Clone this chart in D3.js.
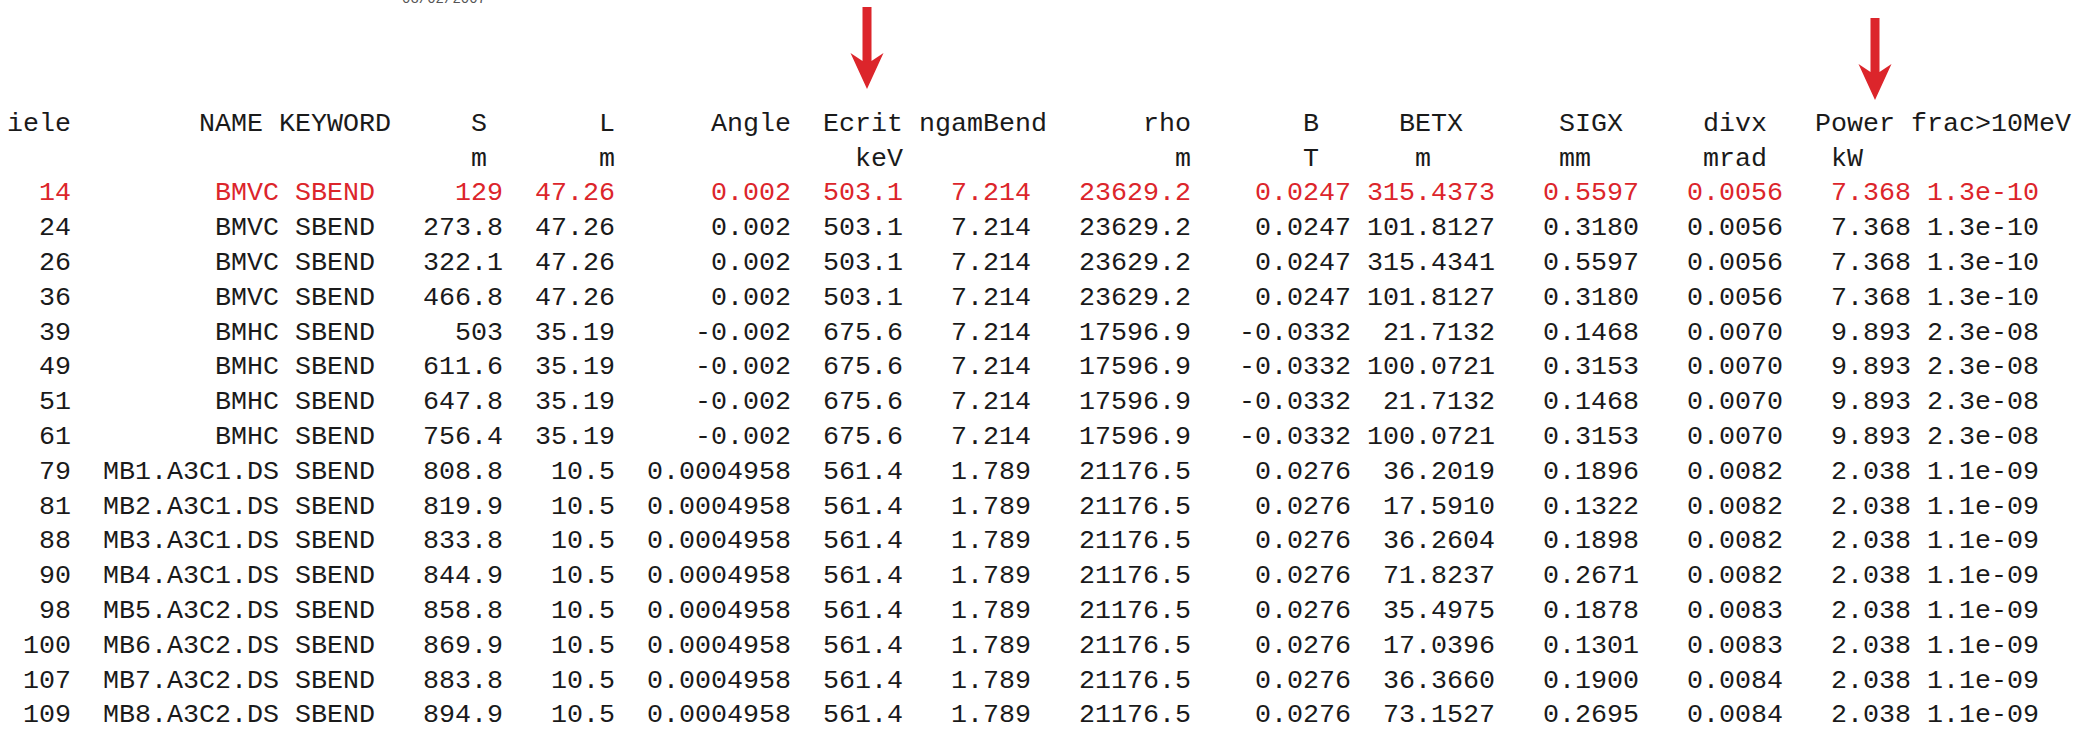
<!DOCTYPE html>
<html>
<head>
<meta charset="utf-8">
<script src="https://cdn.jsdelivr.net/npm/d3@7"></script>
<style>
  html, body { margin: 0; padding: 0; background: #fff; overflow: hidden; }
  text { font-family: "Liberation Mono", "Courier New", monospace; }
</style>
</head>
<body>
<div id="table"></div>
<script>
// table data, one array per column
const columns = ["iele", "NAME", "KEYWORD", "S", "L", "Angle", "Ecrit", "ngamBend", "rho", "B", "BETX", "SIGX", "divx", "Power", "frac>10MeV"];
const units   = ["", "", "", "m", "m", "", "keV", "", "m", "T", "m", "mm", "mrad", "kW", ""];

const iele     = ["14", "24", "26", "36", "39", "49", "51", "61", "79", "81", "88", "90", "98", "100", "107", "109"];
const names    = ["BMVC", "BMVC", "BMVC", "BMVC", "BMHC", "BMHC", "BMHC", "BMHC",
                  "MB1.A3C1.DS", "MB2.A3C1.DS", "MB3.A3C1.DS", "MB4.A3C1.DS", "MB5.A3C2.DS", "MB6.A3C2.DS", "MB7.A3C2.DS", "MB8.A3C2.DS"];
const keywords = ["SBEND", "SBEND", "SBEND", "SBEND", "SBEND", "SBEND", "SBEND", "SBEND",
                  "SBEND", "SBEND", "SBEND", "SBEND", "SBEND", "SBEND", "SBEND", "SBEND"];
const sPos     = ["129", "273.8", "322.1", "466.8", "503", "611.6", "647.8", "756.4", "808.8", "819.9", "833.8", "844.9", "858.8", "869.9", "883.8", "894.9"];
const lengths  = ["47.26", "47.26", "47.26", "47.26", "35.19", "35.19", "35.19", "35.19", "10.5", "10.5", "10.5", "10.5", "10.5", "10.5", "10.5", "10.5"];
const angles   = ["0.002", "0.002", "0.002", "0.002", "-0.002", "-0.002", "-0.002", "-0.002",
                  "0.0004958", "0.0004958", "0.0004958", "0.0004958", "0.0004958", "0.0004958", "0.0004958", "0.0004958"];
const ecrit    = ["503.1", "503.1", "503.1", "503.1", "675.6", "675.6", "675.6", "675.6", "561.4", "561.4", "561.4", "561.4", "561.4", "561.4", "561.4", "561.4"];
const ngamBend = ["7.214", "7.214", "7.214", "7.214", "7.214", "7.214", "7.214", "7.214", "1.789", "1.789", "1.789", "1.789", "1.789", "1.789", "1.789", "1.789"];
const rho      = ["23629.2", "23629.2", "23629.2", "23629.2", "17596.9", "17596.9", "17596.9", "17596.9",
                  "21176.5", "21176.5", "21176.5", "21176.5", "21176.5", "21176.5", "21176.5", "21176.5"];
const bField   = ["0.0247", "0.0247", "0.0247", "0.0247", "-0.0332", "-0.0332", "-0.0332", "-0.0332",
                  "0.0276", "0.0276", "0.0276", "0.0276", "0.0276", "0.0276", "0.0276", "0.0276"];
const betx     = ["315.4373", "101.8127", "315.4341", "101.8127", "21.7132", "100.0721", "21.7132", "100.0721",
                  "36.2019", "17.5910", "36.2604", "71.8237", "35.4975", "17.0396", "36.3660", "73.1527"];
const sigx     = ["0.5597", "0.3180", "0.5597", "0.3180", "0.1468", "0.3153", "0.1468", "0.3153",
                  "0.1896", "0.1322", "0.1898", "0.2671", "0.1878", "0.1301", "0.1900", "0.2695"];
const divx     = ["0.0056", "0.0056", "0.0056", "0.0056", "0.0070", "0.0070", "0.0070", "0.0070",
                  "0.0082", "0.0082", "0.0082", "0.0082", "0.0083", "0.0083", "0.0084", "0.0084"];
const power    = ["7.368", "7.368", "7.368", "7.368", "9.893", "9.893", "9.893", "9.893",
                  "2.038", "2.038", "2.038", "2.038", "2.038", "2.038", "2.038", "2.038"];
const frac10   = ["1.3e-10", "1.3e-10", "1.3e-10", "1.3e-10", "2.3e-08", "2.3e-08", "2.3e-08", "2.3e-08",
                  "1.1e-09", "1.1e-09", "1.1e-09", "1.1e-09", "1.1e-09", "1.1e-09", "1.1e-09", "1.1e-09"];

const highlightRow = "14";               // row printed in red
const markedColumns = ["Ecrit", "Power"]; // columns with an arrow above
const dateStamp = "03/02/2007";

// fixed width printout layout, in characters
const fieldEnd    = [4, 17, 23, 31, 38, 49, 56, 64, 74, 84, 93, 102, 111, 119, 127]; // right edge of data fields
const headerStart = [0, 12, 17, 29, 37, 44, 51, 57, 71, 81, 87, 97, 106, 113, 119];
const unitStart   = [0, 0, 0, 29, 37, 0, 53, 0, 73, 81, 88, 97, 106, 114, 0];

const W = 2077, H = 729;
const charW = 16;
const fontSize = charW / 0.6;
const red = "#dc252b";
const ink = "#1a1a1a";

const svg = d3.select("#table").append("svg")
    .attr("width", W)
    .attr("height", H);

// char column -> px, printed line -> baseline
const x = d3.scaleLinear().domain([0, 1]).range([7, 7 + charW]);
const y = d3.scaleLinear().domain([0, 1]).range([130.8, 130.8 + 34.8]);

const valueCols = [iele, names, keywords, sPos, lengths, angles, ecrit, ngamBend, rho, bField, betx, sigx, divx, power, frac10];
const rows = iele.map(function(d, i) {
    return valueCols.map(function(col) { return col[i]; });
});

// faint date stamp, cut off at the top like the printout
svg.append("text")
    .attr("x", 402)
    .attr("y", 3)
    .style("font-size", "14px")
    .attr("fill", "#555")
    .text(dateStamp);

// header line
svg.append("g").selectAll("text")
    .data(columns)
    .join("text")
    .attr("x", function(d, i) { return i === 0 ? x(fieldEnd[0]) : x(headerStart[i]); })
    .attr("y", y(0))
    .attr("text-anchor", function(d, i) { return i === 0 ? "end" : "start"; })
    .style("font-size", fontSize + "px")
    .attr("fill", ink)
    .text(function(d) { return d; });

// units line
svg.append("g").selectAll("text")
    .data(units.map(function(u, i) { return { u: u, i: i }; }).filter(function(d) { return d.u !== ""; }))
    .join("text")
    .attr("x", function(d) { return x(unitStart[d.i]); })
    .attr("y", y(1))
    .style("font-size", fontSize + "px")
    .attr("fill", ink)
    .text(function(d) { return d.u; });

// data lines, every field right aligned
const rowG = svg.append("g").selectAll("g")
    .data(rows)
    .join("g")
    .attr("fill", function(d) { return d[0] === highlightRow ? red : ink; });

rowG.selectAll("text")
    .data(function(d, r) { return d.map(function(v, c) { return { v: v, c: c, r: r }; }); })
    .join("text")
    .attr("x", function(d) { return x(fieldEnd[d.c]); })
    .attr("y", function(d) { return y(d.r + 2); })
    .attr("text-anchor", "end")
    .style("font-size", fontSize + "px")
    .text(function(d) { return d.v; });

// red arrows pointing at the marked columns
const arrowTop = { "Ecrit": 7, "Power": 18 };
const arrowLen = 82, headLen = 36, headHalf = 16.5, shaftHalf = 4.5, notch = 8;

function arrowPath(cx, top) {
    const tip = top + arrowLen;
    const back = tip - headLen;
    return "M" + (cx - shaftHalf) + "," + top +
        "L" + (cx + shaftHalf) + "," + top +
        "L" + (cx + shaftHalf) + "," + (back + notch) +
        "L" + (cx + headHalf) + "," + back +
        "L" + cx + "," + tip +
        "L" + (cx - headHalf) + "," + back +
        "L" + (cx - shaftHalf) + "," + (back + notch) + "Z";
}

svg.append("g").selectAll("path")
    .data(markedColumns)
    .join("path")
    .attr("d", function(d) {
        const i = columns.indexOf(d);
        // centred over the data field, a little toward the header
        const cx = x(fieldEnd[i] - 2.25);
        return arrowPath(cx, arrowTop[d]);
    })
    .attr("fill", red);
</script>
</body>
</html>
